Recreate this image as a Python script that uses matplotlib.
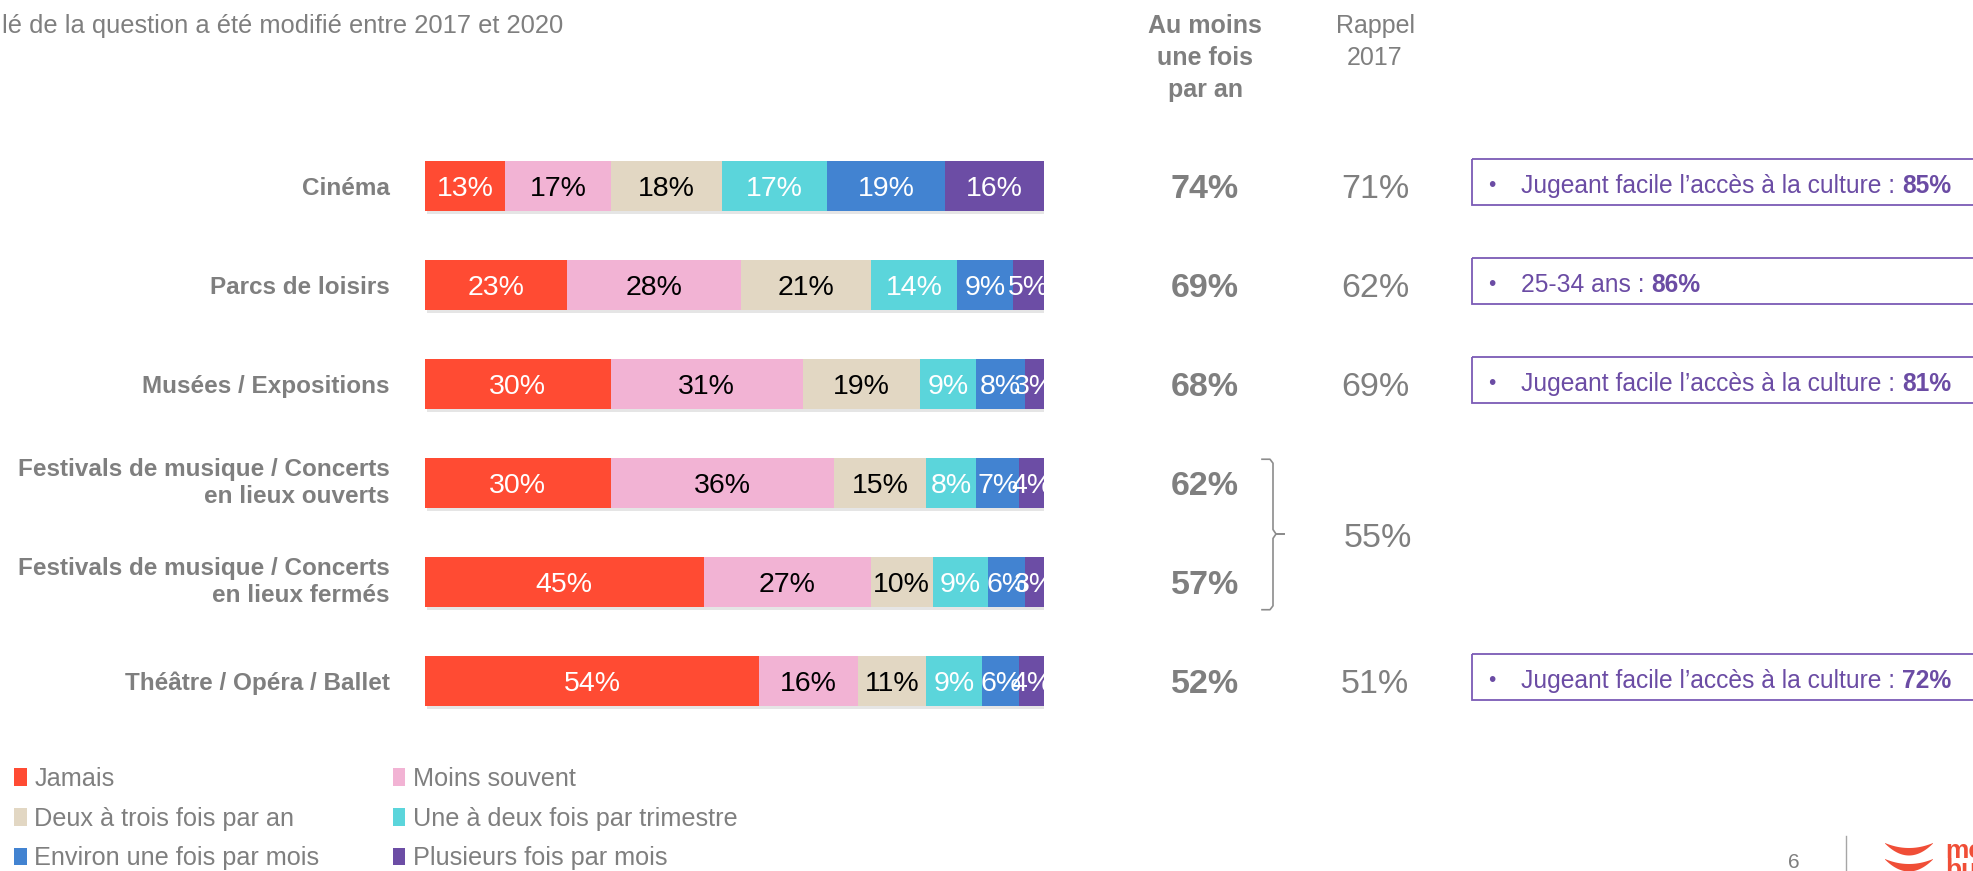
import numpy as np
import matplotlib.pyplot as plt
import matplotlib.transforms as mtransforms
import matplotlib.patheffects as pe
from matplotlib.patches import Rectangle, Polygon
from matplotlib.lines import Line2D

plt.rcParams['font.family'] = ['Liberation Sans', 'DejaVu Sans']

# données
activites = ["Cinéma", "Parcs de loisirs", "Musées / Expositions",
             "Festivals de musique / Concerts\nen lieux ouverts",
             "Festivals de musique / Concerts\nen lieux fermés",
             "Théâtre / Opéra / Ballet"]
frequences = ["Jamais", "Moins souvent", "Deux à trois fois par an",
              "Une à deux fois par trimestre", "Environ une fois par mois",
              "Plusieurs fois par mois"]
jamais = [13, 23, 30, 30, 45, 54]
moins_souvent = [17, 28, 31, 36, 27, 16]
deux_trois_an = [18, 21, 19, 15, 10, 11]
une_deux_trimestre = [17, 14, 9, 8, 9, 9]
une_fois_mois = [19, 9, 8, 7, 6, 6]
plusieurs_mois = [16, 5, 3, 4, 3, 4]
au_moins_une_fois = [74, 69, 68, 62, 57, 52]
rappel_2017 = [71, 62, 69, None, None, 51]
rappel_festivals = 55
encadre_lignes = [0, 1, 2, 5]
encadre_textes = ["Jugeant facile l’accès à la culture : ", "25-34 ans : ",
                  "Jugeant facile l’accès à la culture : ",
                  "Jugeant facile l’accès à la culture : "]
encadre_valeurs = ["85%", "86%", "81%", "72%"]

series = [jamais, moins_souvent, deux_trois_an, une_deux_trimestre, une_fois_mois, plusieurs_mois]
couleurs = ['#FF4B33', '#F2B3D4', '#E2D7C3', '#5BD5DB', '#4283D1', '#6C4DA5']
couleurs_texte = ['white', 'black', 'black', 'white', 'white', 'white']
gris = '#7F7F7F'
violet = '#6B4CA4'

W, H = 1973, 871
fig = plt.figure(figsize=(W / 100, H / 100), dpi=100)
ax = fig.add_axes([425 / W, 1 - 730.5 / H, 619 / W, 594 / H])
ax.set_xlim(0, 100)
ax.set_ylim(5.5, -0.5)
ax.axis('off')

y = np.arange(len(activites))
left = np.zeros(len(activites))
handles = []
for serie, nom, coul, tc in zip(series, frequences, couleurs, couleurs_texte):
    bars = ax.barh(y, serie, left=left, height=0.515, color=coul, label=nom,
                   path_effects=[pe.SimplePatchShadow(offset=(1.2, -2), shadow_rgbFace='#999999', alpha=0.25),
                                 pe.Normal()])
    handles.append(bars)
    for b, v in zip(bars, serie):
        ax.text(b.get_x() + b.get_width() / 2, b.get_y() + b.get_height() / 2, f"{v}%",
                ha='center', va='center_baseline', color=tc, fontsize=20.5, clip_on=True)
    left += np.array(serie)

trans = mtransforms.blended_transform_factory(fig.transFigure, ax.transData)

# libellés des activités
for i, lab in enumerate(activites):
    ax.text(390 / W, i, lab, transform=trans, ha='right',
            va='center_baseline' if '\n' not in lab else 'center', fontsize=17.5,
            fontweight='bold', color=gris, linespacing=1.25)

# colonnes de droite
fig.text(1205 / W, 1 - 58 / H, "Au moins\nune fois\npar an", ha='center', va='center',
         fontsize=18, fontweight='bold', color=gris, linespacing=1.4)
fig.text(1375 / W, 1 - 42 / H, "Rappel\n2017", ha='center', va='center',
         fontsize=18, color=gris, linespacing=1.4)
for i, v in enumerate(au_moins_une_fois):
    ax.text(1205 / W, i, f"{v}%", transform=trans, ha='center', va='center_baseline',
            fontsize=24.5, fontweight='bold', color=gris)
for i, v in enumerate(rappel_2017):
    if v is not None:
        ax.text(1375 / W, i, f"{v}%", transform=trans, ha='center', va='center_baseline',
                fontsize=24.5, color=gris)
ax.text(1378 / W, 3.53, f"{rappel_festivals}%", transform=trans, ha='center',
        va='center_baseline', fontsize=24.5, color=gris)

# accolade
bx = np.array([1262, 1270, 1273, 1273, 1276, 1284, 1276, 1273, 1273, 1270, 1262]) / W
by = [2.76, 2.76, 2.80, 3.47, 3.515, 3.515, 3.515, 3.56, 4.24, 4.28, 4.28]
ax.plot(bx, by, transform=trans, color='#8C8C8C', lw=1.2, clip_on=False)

# encadrés
for i, txt, val in zip(encadre_lignes, encadre_textes, encadre_valeurs):
    ax.add_patch(Rectangle((1472 / W, i - 0.27), 600 / W, 0.46, transform=trans, fill=False,
                           edgecolor='#7B5BB5', lw=1.3, clip_on=False))
    ax.text(1492 / W, i - 0.03, "•", transform=trans, ha='center', va='center_baseline',
            fontsize=15, color=violet)
    t = ax.text(1521 / W, i - 0.03, txt, transform=trans, ha='left', va='center_baseline',
                fontsize=17.7, color=violet)
    ax.annotate(val, xy=(1, 0), xycoords=t, ha='left', va='bottom',
                fontsize=17.7, fontweight='bold', color=violet)

# sous-titre coupé
fig.text(2 / W, 1 - 24 / H, "lé de la question a été modifié entre 2017 et 2020",
         ha='left', va='center_baseline', fontsize=18.4, color=gris)

# légende
ordre = [0, 2, 4, 1, 3, 5]
leg = fig.legend([handles[k] for k in ordre], [frequences[k] for k in ordre],
                 loc='upper left', bbox_to_anchor=(14 / W, 1 - 767 / H), ncol=2,
                 frameon=False, fontsize=18.2, labelcolor=gris, borderpad=0, borderaxespad=0,
                 handlelength=0.5, handleheight=0.7, handletextpad=0.3,
                 columnspacing=2.9, labelspacing=0.62)
for h in leg.legend_handles:
    h.set_path_effects([])

# pied de page
fig.text(1794 / W, 1 - 860 / H, "6", ha='center', va='center_baseline', fontsize=15, color=gris)
fig.add_artist(Line2D([1846 / W, 1846 / W], [0, 1 - 836 / H], color='#A6A6A6', lw=1))
logo = fig.add_axes([1880 / W, 0, 93 / W, 35 / H])
logo.set_xlim(1880, 1973)
logo.set_ylim(871, 836)
logo.axis('off')
xs = np.linspace(1885, 1933, 40)
for top in [843, 859]:
    haut = top + 5 * (1 - ((xs - 1909) / 24) ** 2)
    bas = top + 12 * (1 - ((xs - 1909) / 24) ** 2) + 0.5
    logo.add_patch(Polygon(np.column_stack([np.r_[xs, xs[::-1]], np.r_[haut, bas[::-1]]]),
                           color='#F04E37', lw=0))
logo.text(1945, 851, "me", ha='left', va='center', fontsize=19, fontweight='bold', color='#F04E37')
logo.text(1945, 870, "bu", ha='left', va='center', fontsize=19, fontweight='bold', color='#F04E37')

fig.savefig("out.png", dpi=100)
